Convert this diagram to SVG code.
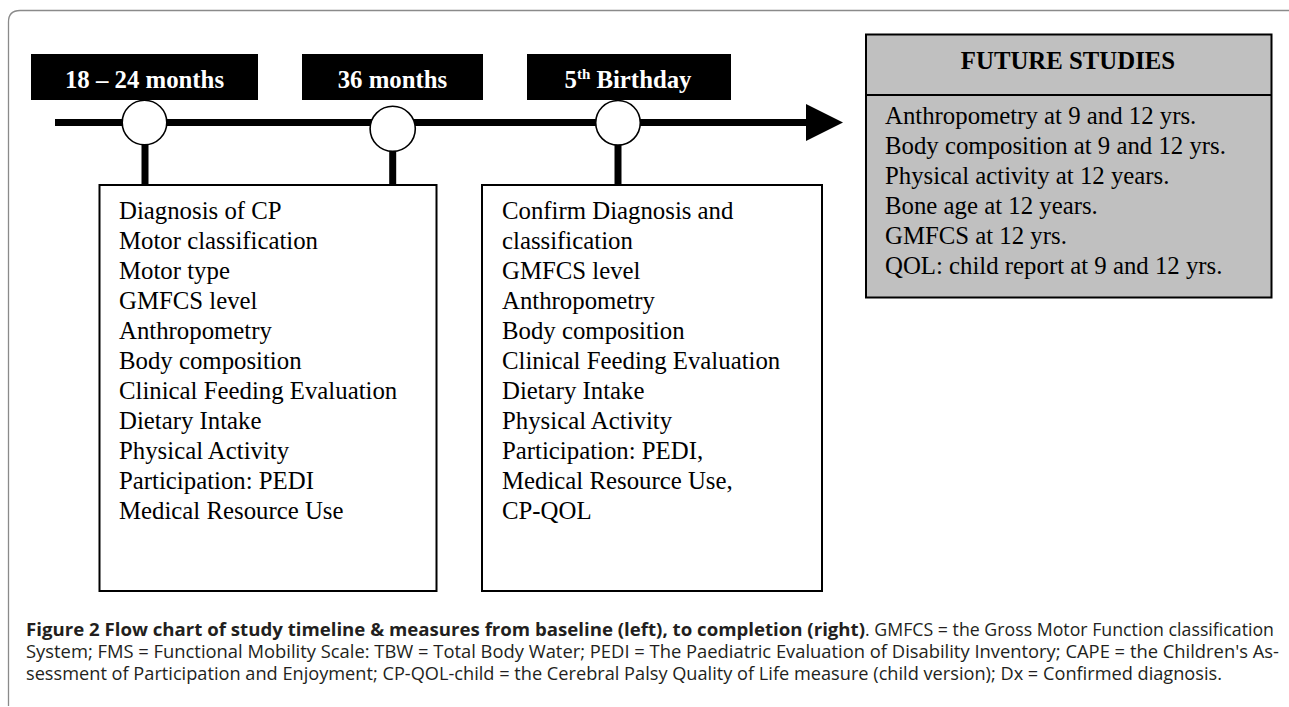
<svg xmlns="http://www.w3.org/2000/svg" width="1289" height="707" viewBox="0 0 1289 707">
<defs>
<style>
.serif{font-family:"Liberation Serif","Times New Roman",serif;font-size:24.8px;fill:#000}
.lbl{font-family:"Liberation Serif","Times New Roman",serif;font-size:24.8px;font-weight:bold;fill:#fff;text-anchor:middle}
.lblbox{fill:#000}
.box{fill:#fff;stroke:#000;stroke-width:2}
.circ{fill:#fff;stroke:#000;stroke-width:1.6}
.stem{stroke:#000;stroke-width:7}
.cap{font-family:"Open Sans","Liberation Sans",sans-serif;font-size:18px;fill:#231f20}
</style>
</defs>
<rect width="1289" height="707" fill="#fff"/>
<path d="M8.5,706 V22 Q8.5,10.5 20,10.5 H1289" fill="none" stroke="#8a8a8a" stroke-width="1.3"/>

<g id="connectors">
<line x1="55" y1="122.5" x2="808" y2="122.5" class="stem"/>
<polygon points="806,104 843,122.5 806,141" fill="#000"/>
<line x1="145" y1="144" x2="145" y2="185" class="stem"/>
<line x1="392.7" y1="150" x2="392.7" y2="185" class="stem"/>
<line x1="618" y1="144" x2="618" y2="185" class="stem"/>
</g>

<g id="label-18-24">
<rect class="lblbox" x="31" y="54" width="227" height="46"/>
<text class="lbl" x="144.5" y="88">18 – 24 months</text>
</g>
<g id="label-36">
<rect class="lblbox" x="302" y="54" width="181" height="46"/>
<text class="lbl" x="392.5" y="88">36 months</text>
</g>
<g id="label-5th">
<rect class="lblbox" x="527" y="54" width="204" height="46"/>
<text class="lbl" x="628" y="88">5<tspan font-size="15" dy="-9">th</tspan><tspan dy="9"> Birthday</tspan></text>
</g>

<g id="milestone-1"><circle class="circ" cx="144.5" cy="122.5" r="22.3"/></g>
<g id="milestone-2"><circle class="circ" cx="392.7" cy="128.8" r="22.6"/></g>
<g id="milestone-3"><circle class="circ" cx="618" cy="122.8" r="22.3"/></g>

<g id="box-baseline">
<rect class="box" x="99.5" y="185" width="337" height="406"/>
<text class="serif">
<tspan x="119" y="219.3">Diagnosis of CP</tspan>
<tspan x="119" y="249.2">Motor classification</tspan>
<tspan x="119" y="279.1">Motor type</tspan>
<tspan x="119" y="309.1">GMFCS level</tspan>
<tspan x="119" y="339">Anthropometry</tspan>
<tspan x="119" y="368.9">Body composition</tspan>
<tspan x="119" y="398.8">Clinical Feeding Evaluation</tspan>
<tspan x="119" y="428.8">Dietary Intake</tspan>
<tspan x="119" y="458.7">Physical Activity</tspan>
<tspan x="119" y="488.6">Participation: PEDI</tspan>
<tspan x="119" y="518.5">Medical Resource Use</tspan>
</text>
</g>

<g id="box-5th">
<rect class="box" x="482" y="185" width="340" height="406"/>
<text class="serif">
<tspan x="502" y="219.3">Confirm Diagnosis and</tspan>
<tspan x="502" y="249.2">classification</tspan>
<tspan x="502" y="279.1">GMFCS level</tspan>
<tspan x="502" y="309.1">Anthropometry</tspan>
<tspan x="502" y="339">Body composition</tspan>
<tspan x="502" y="368.9">Clinical Feeding Evaluation</tspan>
<tspan x="502" y="398.8">Dietary Intake</tspan>
<tspan x="502" y="428.8">Physical Activity</tspan>
<tspan x="502" y="458.7">Participation: PEDI,</tspan>
<tspan x="502" y="488.6">Medical Resource Use,</tspan>
<tspan x="502" y="518.5">CP-QOL</tspan>
</text>
</g>

<g id="future-studies">
<rect x="866" y="34.5" width="405.5" height="263" fill="#c0c0c0" stroke="#000" stroke-width="2"/>
<line x1="866" y1="95" x2="1271.5" y2="95" stroke="#000" stroke-width="2"/>
<text x="1068" y="69" class="serif" font-weight="bold" text-anchor="middle">FUTURE STUDIES</text>
<text class="serif">
<tspan x="885" y="124.3">Anthropometry at 9 and 12 yrs.</tspan>
<tspan x="885" y="154.2">Body composition at 9 and 12 yrs.</tspan>
<tspan x="885" y="184.1">Physical activity at 12 years.</tspan>
<tspan x="885" y="214">Bone age at 12 years.</tspan>
<tspan x="885" y="244">GMFCS at 12 yrs.</tspan>
<tspan x="885" y="274">QOL: child report at 9 and 12 yrs.</tspan>
</text>
</g>

<g id="caption">
<text class="cap" x="26" y="636" font-weight="bold" textLength="839" lengthAdjust="spacingAndGlyphs">Figure 2 Flow chart of study timeline &amp; measures from baseline (left), to completion (right)</text>
<text class="cap" x="865" y="636" textLength="409" lengthAdjust="spacingAndGlyphs">. GMFCS = the Gross Motor Function classification</text>
<text class="cap" x="26" y="658" textLength="1253" lengthAdjust="spacingAndGlyphs">System; FMS = Functional Mobility Scale: TBW = Total Body Water; PEDI = The Paediatric Evaluation of Disability Inventory; CAPE = the Children's As-</text>
<text class="cap" x="26" y="680" textLength="1196" lengthAdjust="spacingAndGlyphs">sessment of Participation and Enjoyment; CP-QOL-child = the Cerebral Palsy Quality of Life measure (child version); Dx = Confirmed diagnosis.</text>
</g>
</svg>
